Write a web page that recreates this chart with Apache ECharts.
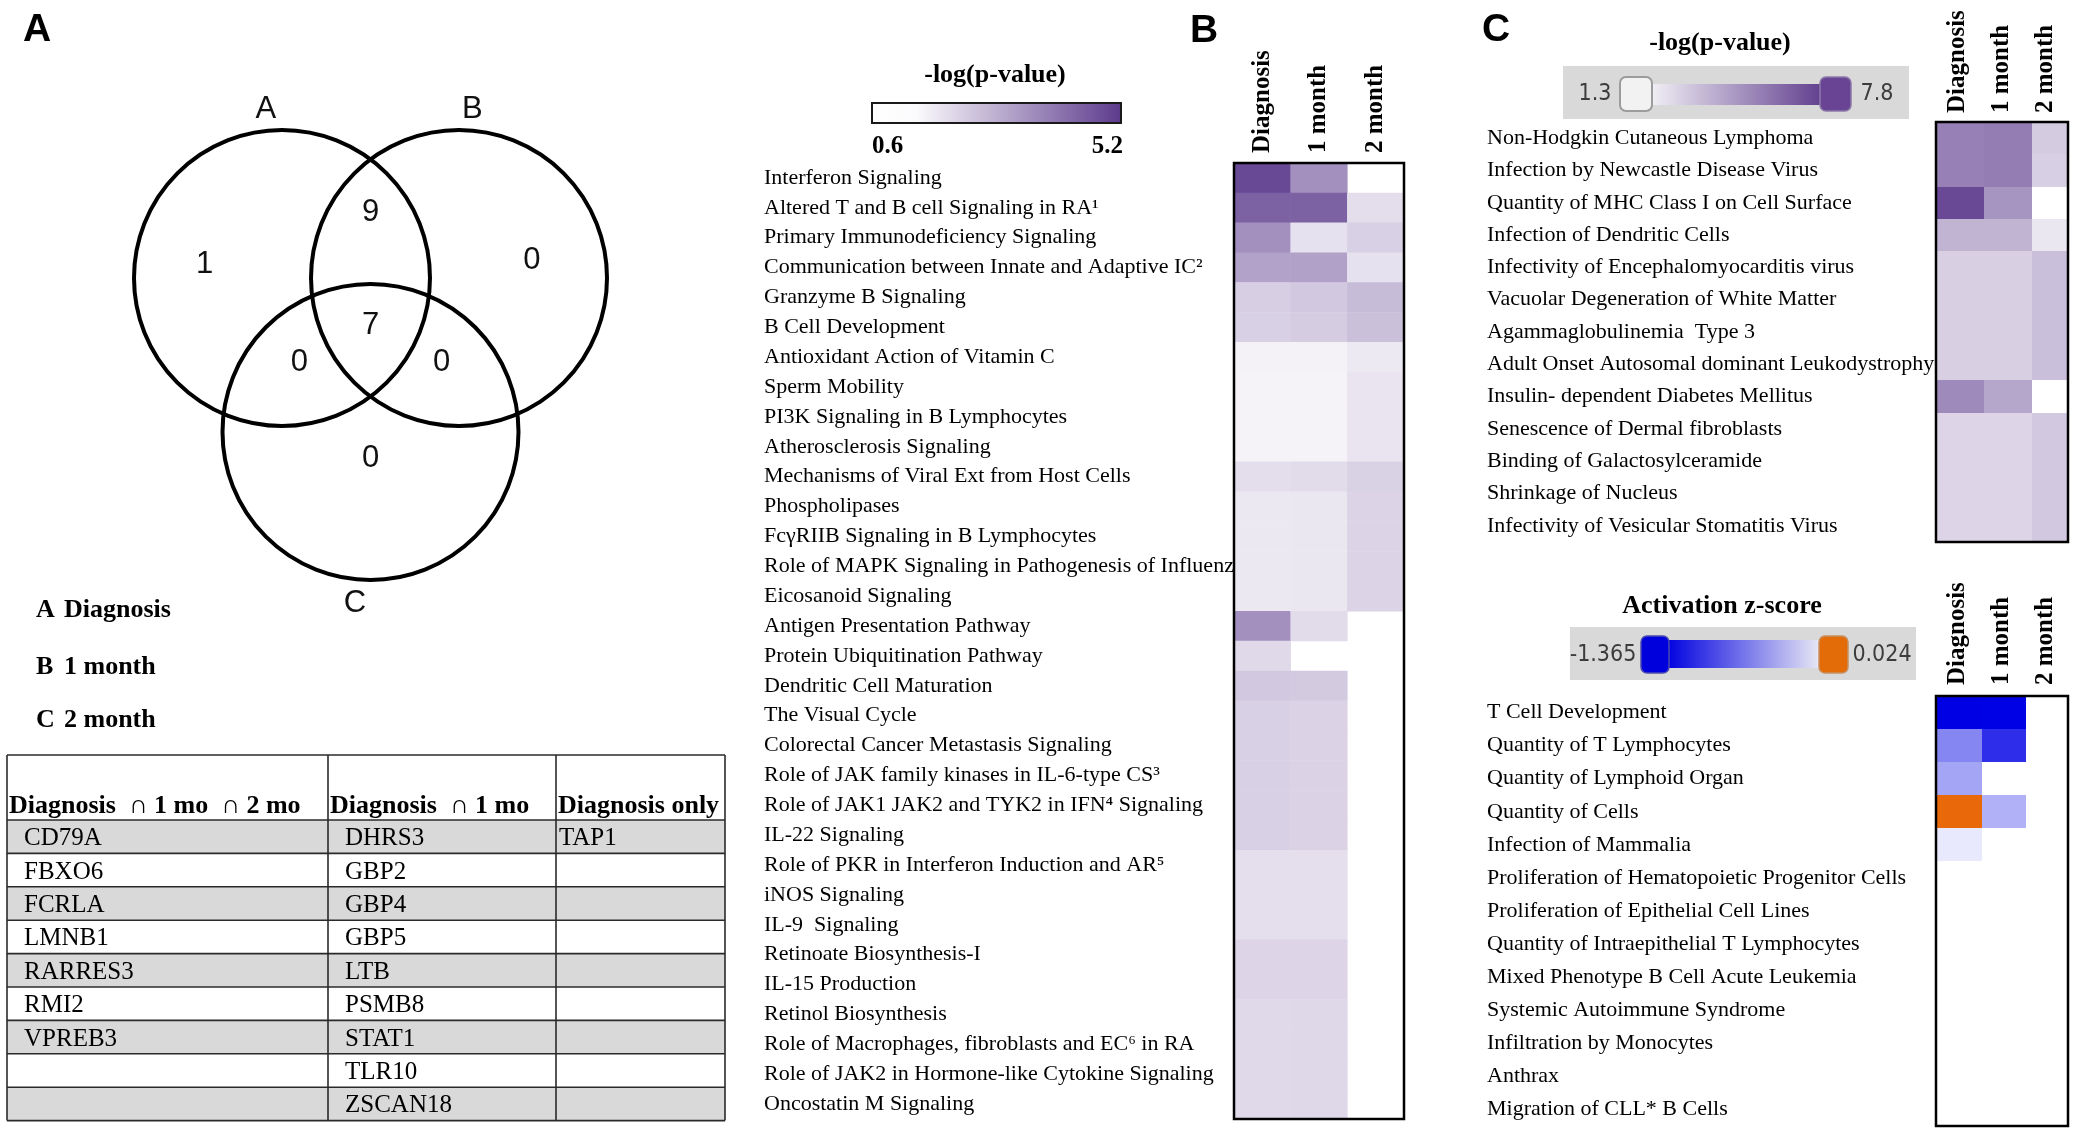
<!DOCTYPE html>
<html><head><meta charset="utf-8">
<script src="https://cdn.jsdelivr.net/npm/echarts@6/dist/echarts.min.js"></script>
<style>html,body{margin:0;padding:0;background:#fff}#c{width:2076px;height:1133px}</style>
</head><body><div id="c"></div>
<script>
// ---------------- DATA ----------------
const vennSets = ['A', 'B', 'C'];
const vennSetNames = ['Diagnosis', '1 month', '2 month'];
const vennRegions = ['A', 'B', 'C', 'AB', 'AC', 'BC', 'ABC'];
const vennCounts = [1, 0, 0, 9, 0, 0, 7];

const tableHeaders = ['Diagnosis  \u2229 1 mo  \u2229 2 mo', 'Diagnosis  \u2229 1 mo', 'Diagnosis only'];
const genesAllThree = ['CD79A', 'FBXO6', 'FCRLA', 'LMNB1', 'RARRES3', 'RMI2', 'VPREB3'];
const genesDiag1mo = ['DHRS3', 'GBP2', 'GBP4', 'GBP5', 'LTB', 'PSMB8', 'STAT1', 'TLR10', 'ZSCAN18'];
const genesDiagOnly = ['TAP1'];

const timepoints = ['Diagnosis', '1 month', '2 month'];

const pathwaysB = [
  'Interferon Signaling',
  'Altered T and B cell Signaling in RA\u00b9',
  'Primary Immunodeficiency Signaling',
  'Communication between Innate and Adaptive IC\u00b2',
  'Granzyme B Signaling',
  'B Cell Development',
  'Antioxidant Action of Vitamin C',
  'Sperm Mobility',
  'PI3K Signaling in B Lymphocytes',
  'Atherosclerosis Signaling',
  'Mechanisms of Viral Ext from Host Cells',
  'Phospholipases',
  'Fc\u03b3RIIB Signaling in B Lymphocytes',
  'Role of MAPK Signaling in Pathogenesis of Influenza',
  'Eicosanoid Signaling',
  'Antigen Presentation Pathway',
  'Protein Ubiquitination Pathway',
  'Dendritic Cell Maturation',
  'The Visual Cycle',
  'Colorectal Cancer Metastasis Signaling',
  'Role of JAK family kinases in IL-6-type CS\u00b3',
  'Role of JAK1 JAK2 and TYK2 in IFN\u2074 Signaling',
  'IL-22 Signaling',
  'Role of PKR in Interferon Induction and AR\u2075',
  'iNOS Signaling',
  'IL-9  Signaling',
  'Retinoate Biosynthesis-I',
  'IL-15 Production',
  'Retinol Biosynthesis',
  'Role of Macrophages, fibroblasts and EC\u2076 in RA',
  'Role of JAK2 in Hormone-like Cytokine Signaling',
  'Oncostatin M Signaling'
];
const pB_diag = [4.86, 4.3, 3.2, 2.77, 1.74, 1.69, 0.91, 0.89, 0.89, 0.89, 1.37, 1.14, 1.14, 1.14, 1.14, 3.2,
  1.49, 1.86, 1.69, 1.69, 1.69, 1.69, 1.69, 1.34, 1.34, 1.34, 1.57, 1.57, 1.49, 1.49, 1.49, 1.49];
const pB_1mo = [3.2, 4.3, 1.3, 2.8, 1.86, 1.78, 0.91, 0.89, 0.89, 0.89, 1.43, 1.17, 1.17, 1.17, 1.17, 1.43,
  null, 1.83, 1.63, 1.63, 1.63, 1.63, 1.63, 1.34, 1.34, 1.34, 1.57, 1.57, 1.52, 1.52, 1.52, 1.52];
const pB_2mo = [null, 1.37, 1.7, 1.3, 2.17, 2.08, 1.11, 1.23, 1.23, 1.23, 1.66, 1.6, 1.6, 1.6, 1.6, null,
  null, null, null, null, null, null, null, null, null, null, null, null, null, null, null, null];
const pB_range = [0.6, 5.2];

const functionsC = [
  'Non-Hodgkin Cutaneous Lymphoma',
  'Infection by Newcastle Disease Virus',
  'Quantity of MHC Class I on Cell Surface',
  'Infection of Dendritic Cells',
  'Infectivity of Encephalomyocarditis virus',
  'Vacuolar Degeneration of White Matter',
  'Agammaglobulinemia  Type 3',
  'Adult Onset Autosomal dominant Leukodystrophy',
  'Insulin- dependent Diabetes Mellitus',
  'Senescence of Dermal fibroblasts',
  'Binding of Galactosylceramide',
  'Shrinkage of Nucleus',
  'Infectivity of Vesicular Stomatitis Virus'
];
const pC_diag = [5.5, 5.5, 7.3, 3.76, 2.87, 2.87, 2.87, 2.87, 5.13, 2.67, 2.67, 2.67, 2.67];
const pC_1mo = [5.6, 5.6, 4.8, 3.76, 2.87, 2.87, 2.87, 2.87, 4.25, 2.67, 2.67, 2.67, 2.67];
const pC_2mo = [3.0, 2.9, null, 2.1, 3.4, 3.4, 3.4, 3.4, null, 3.08, 3.08, 3.08, 3.08];
const pC_range = [1.3, 7.8];

const zFunctions = [
  'T Cell Development',
  'Quantity of T Lymphocytes',
  'Quantity of Lymphoid Organ',
  'Quantity of Cells',
  'Infection of Mammalia',
  'Proliferation of Hematopoietic Progenitor Cells',
  'Proliferation of Epithelial Cell Lines',
  'Quantity of Intraepithelial T Lymphocytes',
  'Mixed Phenotype B Cell Acute Leukemia',
  'Systemic Autoimmune Syndrome',
  'Infiltration by Monocytes',
  'Anthrax',
  'Migration of CLL* B Cells'
];
const z_diag = [-1.365, -0.65, -0.48, 0.024, -0.12, null, null, null, null, null, null, null, null];
const z_1mo = [-1.36, -1.12, null, -0.42, null, null, null, null, null, null, null, null, null];
const z_2mo = [null, null, null, null, null, null, null, null, null, null, null, null, null];
const z_range = [-1.365, 0.024];

// ---------------- LAYOUT / STYLE ----------------
const SERIF = '"Liberation Serif", "Times New Roman", serif';
const SANS = '"Liberation Sans", Arial, sans-serif';
const NARROW = '"DejaVu Sans Condensed", "Liberation Sans Narrow", "Liberation Sans", sans-serif';
const PURPLE = '#5c3a8c';

// venn geometry in unit-radius space (y downward)
const vennCenters = [[-0.598, 0], [0.598, 0], [0, 1.04]];
const vennLabelOffsets = [[-0.11, -1.14], [0.09, -1.14], [-0.105, 1.16]];
const vennAnchors = {A: [-1.12, -0.09], B: [1.09, -0.12], C: [0, 1.22], AB: [0, -0.44], AC: [-0.48, 0.57], BC: [0.48, 0.57], ABC: [0, 0.32]};
// column edge fractions of the panel C boxes (columns are not equal width there)
const colEdgesCtop = [0, 0.365, 0.725, 1];
const colEdgesCbot = [0, 0.35, 0.68, 1];

function heatData(cols) {
  const out = [];
  cols.forEach((arr, j) => arr.forEach((v, i) => { if (v !== null) out.push([j, i, v]); }));
  return out;
}
const zCols = [z_diag, z_1mo, z_2mo];
const zNeg = [], zPos = [];
zCols.forEach((arr, j) => arr.forEach((v, i) => {
  if (v === null) return;
  (v < 0 ? zNeg : zPos).push([j, i, v]);
}));

function cellRenderer(edges) {
  return function (params, api) {
    const j = api.value(0), i = api.value(1);
    const cs = params.coordSys;
    const bandH = api.size([0, 1])[1];
    const c = api.coord([j, i]);
    const x0 = Math.round(cs.x + edges[j] * cs.width);
    const x1 = Math.round(cs.x + edges[j + 1] * cs.width);
    const y0 = Math.round(c[1] - bandH / 2);
    const y1 = Math.round(c[1] + bandH / 2);
    return {type: 'rect', shape: {x: x0, y: y0, width: x1 - x0, height: y1 - y0}, style: {fill: api.visual('color'), stroke: null}};
  };
}

function txt(text, x, y, font, opts) {
  opts = opts || {};
  return {
    type: 'text', x: x, y: y, z: 50,
    style: {
      text: text, font: font, fill: opts.fill || '#000',
      textAlign: opts.align || 'left', align: opts.align || 'left',
      textVerticalAlign: opts.va || 'middle', verticalAlign: opts.va || 'middle'
    }
  };
}

// ---------------- GRAPHICS (table, legends, labels) ----------------
const g = [];
g.push(txt('A', 37, 30, 'bold 39px ' + SANS, {align: 'center'}));
g.push(txt('B', 1204, 31, 'bold 39px ' + SANS, {align: 'center'}));
g.push(txt('C', 1496, 30, 'bold 39px ' + SANS, {align: 'center'}));

const setNameY = [610, 667, 720];
vennSets.forEach((s, i) => {
  g.push(txt(s, 36, setNameY[i], 'bold 26px ' + SERIF));
  g.push(txt(vennSetNames[i], 64, setNameY[i], 'bold 26px ' + SERIF));
});

// table
const tX = [7, 328, 556, 725];
const tTop = 755, tHeadB = 820, rowH = 33.4;
const nRows = Math.max(genesAllThree.length, genesDiag1mo.length, genesDiagOnly.length);
const tBottom = tHeadB + nRows * rowH;
for (let r = 0; r < nRows; r++) {
  if (r % 2 === 0) g.push({type: 'rect', z: 10, shape: {x: tX[0], y: tHeadB + r * rowH, width: tX[3] - tX[0], height: rowH}, style: {fill: '#d9d9d9'}});
}
const lineStyle = {stroke: '#2a2a2a', lineWidth: 1.6};
for (let r = 0; r <= nRows; r++) {
  g.push({type: 'line', z: 12, shape: {x1: tX[0], y1: tHeadB + r * rowH, x2: tX[3], y2: tHeadB + r * rowH}, style: lineStyle});
}
g.push({type: 'line', z: 12, shape: {x1: tX[0], y1: tTop, x2: tX[3], y2: tTop}, style: lineStyle});
tX.forEach(x => g.push({type: 'line', z: 12, shape: {x1: x, y1: tTop, x2: x, y2: tBottom}, style: lineStyle}));
const headX = [9, 330, 558];
tableHeaders.forEach((h, i) => g.push(txt(h, headX[i], tHeadB - 1, 'bold 26px ' + SERIF, {va: 'bottom'})));
const cellX = [24, 345, 559];
[genesAllThree, genesDiag1mo, genesDiagOnly].forEach((col, c) => col.forEach((gname, r) => {
  g.push(txt(gname, cellX[c], tHeadB + r * rowH + rowH / 2 + 2, '25px ' + SERIF));
}));

// legend B
g.push(txt('-log(p-value)', 995, 75, 'bold 26px ' + SERIF, {align: 'center'}));
g.push({type: 'rect', z: 20, shape: {x: 872, y: 103, width: 249, height: 20},
  style: {fill: {type: 'linear', x: 0, y: 0, x2: 1, y2: 0, colorStops: [{offset: 0, color: '#ffffff'}, {offset: 0.18, color: '#fbfafc'}, {offset: 1, color: PURPLE}]}, stroke: '#1a1a1a', lineWidth: 2}});
g.push(txt(String(pB_range[0]), 872, 147, 'bold 25px ' + SERIF));
g.push(txt(String(pB_range[1]), 1123, 147, 'bold 25px ' + SERIF, {align: 'right'}));

// legend C top
g.push(txt('-log(p-value)', 1720, 43, 'bold 26px ' + SERIF, {align: 'center'}));
g.push({type: 'rect', z: 20, shape: {x: 1563, y: 66, width: 346, height: 53}, style: {fill: '#d9d9d9'}});
g.push({type: 'rect', z: 21, shape: {x: 1651, y: 84, width: 170, height: 21},
  style: {fill: {type: 'linear', x: 0, y: 0, x2: 1, y2: 0, colorStops: [{offset: 0, color: '#f1eff5'}, {offset: 1, color: '#62408f'}]}}});
g.push({type: 'rect', z: 22, shape: {x: 1620, y: 77, width: 32, height: 34, r: 6}, style: {fill: '#f2f2f2', stroke: '#9c9c9c', lineWidth: 2}});
g.push({type: 'rect', z: 22, shape: {x: 1820, y: 77, width: 31, height: 34, r: 6}, style: {fill: '#6a4494', stroke: '#8c7aa8', lineWidth: 1.5}});
g.push(txt(String(pC_range[0]), 1595, 94, '23px ' + NARROW, {align: 'center', fill: '#3c3c3c'}));
g.push(txt(String(pC_range[1]), 1877, 94, '23px ' + NARROW, {align: 'center', fill: '#3c3c3c'}));

// legend C bottom
g.push(txt('Activation z-score', 1722, 606, 'bold 26px ' + SERIF, {align: 'center'}));
g.push({type: 'rect', z: 20, shape: {x: 1570, y: 627, width: 346, height: 53}, style: {fill: '#d9d9d9'}});
g.push({type: 'rect', z: 21, shape: {x: 1666, y: 640, width: 156, height: 28},
  style: {fill: {type: 'linear', x: 0, y: 0, x2: 1, y2: 0, colorStops: [{offset: 0, color: '#0000e0'}, {offset: 1, color: '#ebebf5'}]}}});
g.push({type: 'rect', z: 22, shape: {x: 1641, y: 636, width: 28, height: 37, r: 6}, style: {fill: '#0000dc', stroke: '#4a4ab0', lineWidth: 1.5}});
g.push({type: 'rect', z: 22, shape: {x: 1819, y: 636, width: 29, height: 37, r: 6}, style: {fill: '#e36c09', stroke: '#c89060', lineWidth: 1.5}});
g.push(txt(String(z_range[0]), 1603, 655, '23px ' + NARROW, {align: 'center', fill: '#3c3c3c'}));
g.push(txt(String(z_range[1]), 1882, 655, '23px ' + NARROW, {align: 'center', fill: '#3c3c3c'}));

// ---------------- CHART ----------------
const chart = echarts.init(document.getElementById('c'), null, {renderer: 'canvas'});

const headLabel = (margin) => ({show: true, interval: 0, rotate: -90, margin: margin, fontFamily: SERIF, fontWeight: 'bold', fontSize: 25, color: '#000'});
const rowLabel = (margin) => ({show: true, interval: 0, align: 'left', margin: margin, fontFamily: SERIF, fontSize: 22, color: '#000'});
const gridBox = {show: true, z: 10, borderColor: '#000', borderWidth: 2.5, backgroundColor: 'rgba(0,0,0,0)'};
const catX = (gi, m) => ({type: 'category', gridIndex: gi, data: timepoints, position: 'top', axisLine: {show: false}, axisTick: {show: false}, splitLine: {show: false}, axisLabel: headLabel(m)});
const catY = (gi, data, m) => ({type: 'category', gridIndex: gi, data: data, inverse: true, axisLine: {show: false}, axisTick: {show: false}, splitLine: {show: false}, axisLabel: rowLabel(m)});

const option = {
  animation: false,
  backgroundColor: '#fff',
  grid: [
    {left: 0.5, top: 11.6, width: 740, height: 621.6},
    Object.assign({left: 1234, top: 163, width: 170, height: 956}, gridBox),
    Object.assign({left: 1936, top: 122, width: 132, height: 420}, gridBox),
    Object.assign({left: 1936, top: 696, width: 132, height: 430}, gridBox)
  ],
  xAxis: [
    {type: 'value', gridIndex: 0, min: -2.5, max: 2.5, show: false},
    catX(1, 10), catX(2, 9), catX(3, 11)
  ],
  yAxis: [
    {type: 'value', gridIndex: 0, min: -1.8, max: 2.4, inverse: true, show: false},
    catY(1, pathwaysB, 1234 - 764),
    catY(2, functionsC, 1936 - 1487),
    catY(3, zFunctions, 1936 - 1487)
  ],
  visualMap: [
    {type: 'continuous', show: false, seriesIndex: 2, dimension: 2, min: pB_range[0], max: pB_range[1], inRange: {color: ['#ffffff', PURPLE]}},
    {type: 'continuous', show: false, seriesIndex: 3, dimension: 2, min: pC_range[0], max: pC_range[1], inRange: {color: ['#ffffff', PURPLE]}},
    {type: 'continuous', show: false, seriesIndex: 4, dimension: 2, min: z_range[0], max: 0, inRange: {color: ['#0000e5', '#ffffff']}},
    {type: 'continuous', show: false, seriesIndex: 5, dimension: 2, min: 0, max: z_range[1], inRange: {color: ['#ffffff', '#e8680a']}}
  ],
  series: [
    {
      type: 'custom', xAxisIndex: 0, yAxisIndex: 0, silent: true,
      data: vennSets.map((s, i) => [i]),
      renderItem: function (params, api) {
        const i = api.value(0);
        const c = api.coord(vennCenters[i]);
        const r = api.size([1, 1])[0];
        const lp = api.coord([vennCenters[i][0] + vennLabelOffsets[i][0], vennCenters[i][1] + vennLabelOffsets[i][1]]);
        return {type: 'group', children: [
          {type: 'circle', shape: {cx: c[0], cy: c[1], r: r}, style: {fill: 'none', stroke: '#000', lineWidth: 4}},
          {type: 'text', x: lp[0], y: lp[1], style: {text: vennSets[i], font: '31px ' + SANS, fill: '#111', textAlign: 'center', align: 'center', textVerticalAlign: 'middle', verticalAlign: 'middle'}}
        ]};
      }
    },
    {
      type: 'custom', xAxisIndex: 0, yAxisIndex: 0, silent: true,
      data: vennCounts.map((c, i) => [i, c]),
      renderItem: function (params, api) {
        const i = api.value(0);
        const p = api.coord(vennAnchors[vennRegions[i]]);
        return {type: 'text', x: p[0], y: p[1], style: {text: String(api.value(1)), font: '31px ' + SANS, fill: '#111', textAlign: 'center', align: 'center', textVerticalAlign: 'middle', verticalAlign: 'middle'}};
      }
    },
    {type: 'heatmap', xAxisIndex: 1, yAxisIndex: 1, data: heatData([pB_diag, pB_1mo, pB_2mo]), silent: true},
    {type: 'custom', xAxisIndex: 2, yAxisIndex: 2, data: heatData([pC_diag, pC_1mo, pC_2mo]), silent: true, renderItem: cellRenderer(colEdgesCtop)},
    {type: 'custom', xAxisIndex: 3, yAxisIndex: 3, data: zNeg, silent: true, renderItem: cellRenderer(colEdgesCbot)},
    {type: 'custom', xAxisIndex: 3, yAxisIndex: 3, data: zPos, silent: true, renderItem: cellRenderer(colEdgesCbot)}
  ],
  graphic: {elements: g}
};
chart.setOption(option);
</script>
</body></html>
